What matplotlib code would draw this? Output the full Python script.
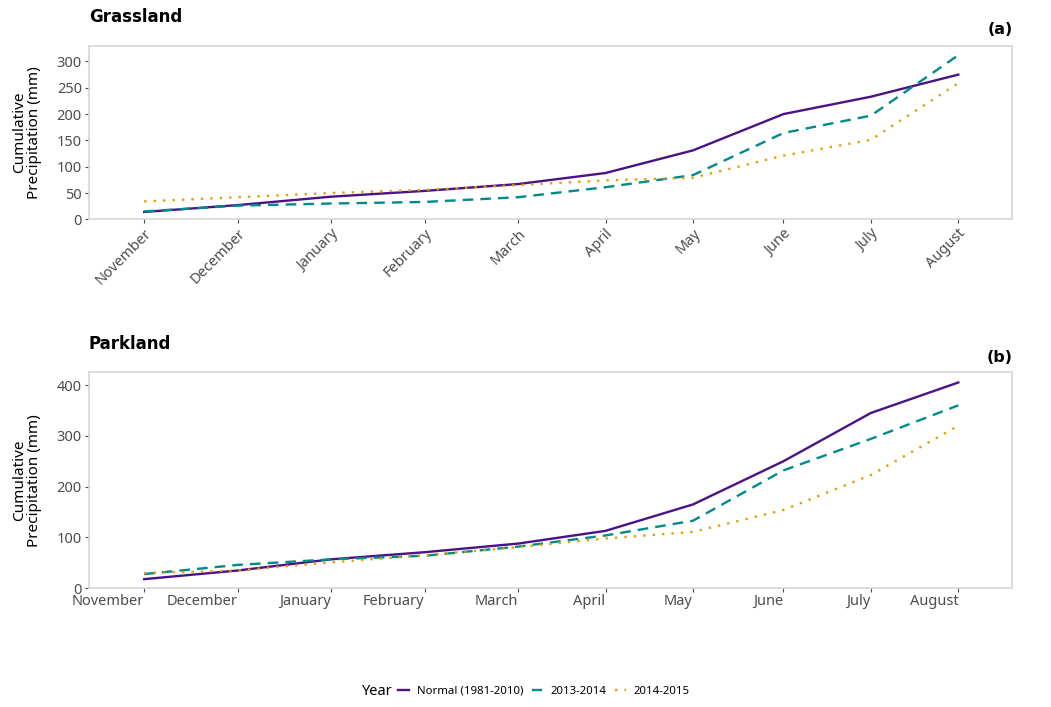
# Cumulative precipitation, Grassland vs Parkland

import matplotlib
matplotlib.use("Agg")
import matplotlib.pyplot as plt

plt.rcParams['font.family'] = ['Noto Sans', 'DejaVu Sans']

# ================================================== Data ============================================================
months = ["November", "December", "January", "February", "March",
          "April", "May", "June", "July", "August"]
# days since 1 November for each monthly value
day = [0, 31, 62, 93, 124, 153, 182, 212, 241, 270]

grass_normal = [14, 27, 43, 54, 67, 88, 131, 200, 233, 275]
grass_1314 = [15, 26, 30, 33, 42, 61, 84, 164, 197, 312]
grass_1415 = [34, 42, 50, 56, 65, 74, 79, 121, 151, 259]

park_normal = [18, 35, 57, 71, 88, 113, 165, 250, 345, 405]
park_1314 = [28, 46, 57, 64, 82, 104, 133, 232, 294, 360]
park_1415 = [30, 35, 51, 65, 81, 98, 111, 154, 223, 320]

series_labels = ["Normal (1981-2010)", "2013-2014", "2014-2015"]

# ================================================== Styles ============================================================
colors = ["#4b1287", "#008b8b", "#e69f00"]
styles = ["-", (0, (4.5, 3)), (0, (1, 3))]
tick_grey = "#4d4d4d"
border_grey = "#d6d6d6"

fig = plt.figure(figsize=(10.51, 7.07), dpi=100)
ax_a = fig.add_axes([0.0844, 0.6898, 0.8782, 0.2456])
ax_b = fig.add_axes([0.0844, 0.1679, 0.8782, 0.3055])

panels = [
    (ax_a, [grass_normal, grass_1314, grass_1415], (0, 330), range(0, 301, 50)),
    (ax_b, [park_normal, park_1314, park_1415], (0, 425), range(0, 401, 100)),
]

handles = []
for ax, data, ylim, yticks in panels:
    lines = []
    for vals, c, ls, lab in zip(data, colors, styles, series_labels):
        ln, = ax.plot(day, vals, color=c, linestyle=ls, linewidth=1.7, label=lab)
        lines.append(ln)
    handles = lines
    ax.set_xlim(-18.4, 287.7)
    ax.set_ylim(*ylim)
    ax.set_yticks(list(yticks))
    ax.set_xticks(day)
    for s in ax.spines.values():
        s.set_color(border_grey)
        s.set_linewidth(1.2)
    ax.tick_params(axis='both', colors=tick_grey, labelcolor=tick_grey,
                   labelsize=10.5, length=3, width=0.8, pad=2)
    ax.text(-0.0668, 0.5, "Cumulative\nPrecipitation (mm)", transform=ax.transAxes,
            rotation=90, ha='center', va='center', fontsize=11, linespacing=1.05)

# panel (a): rotated month labels
ax_a.set_xticklabels(months, rotation=45, ha='right', rotation_mode='anchor')
# panel (b): horizontal labels ending at the tick
ax_b.set_xticklabels(months, ha='right')
ax_b.tick_params(axis='x', pad=1)

# titles and panel letters
bold = dict(family='DejaVu Sans', fontweight='bold', va='center')
fig.text(0.0844, 0.976, "Grassland", fontsize=12, ha='left', **bold)
fig.text(0.0844, 0.5134, "Parkland", fontsize=12, ha='left', **bold)
fig.text(0.9638, 0.9576, "(a)", fontsize=11.5, ha='right', **bold)
fig.text(0.9638, 0.495, "(b)", fontsize=11.5, ha='right', **bold)

# legend at the bottom
fig.text(0.3445, 0.0226, "Year", fontsize=10.5, ha='left', va='center')
fig.legend(handles=handles, loc='center', bbox_to_anchor=(0.5176, 0.0226), ncol=3,
           frameon=False, fontsize=8.2, handlelength=0.9, handletextpad=0.7,
           columnspacing=0.8, borderpad=0)

fig.savefig("out.png", dpi=100)
